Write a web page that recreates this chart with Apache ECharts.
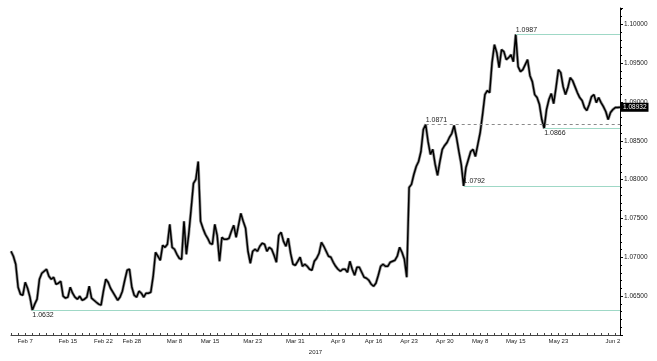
<!DOCTYPE html>
<html>
<head>
<meta charset="utf-8">
<script src="https://cdn.jsdelivr.net/npm/echarts@6/dist/echarts.min.js"></script>
<style>html,body{margin:0;padding:0;background:#fff}#c{width:657px;height:361px}</style>
</head>
<body>
<div id="c"></div>
<script>
const tradingDays = [
 'Feb 3','Feb 6','Feb 7','Feb 8','Feb 9','Feb 10','Feb 13','Feb 14','Feb 15','Feb 16','Feb 17','Feb 20','Feb 21','Feb 22','Feb 23','Feb 24','Feb 27','Feb 28',
 'Mar 1','Mar 2','Mar 3','Mar 6','Mar 7','Mar 8','Mar 9','Mar 10','Mar 13','Mar 14','Mar 15','Mar 16','Mar 17','Mar 20','Mar 21','Mar 22','Mar 23','Mar 24','Mar 27','Mar 28','Mar 29','Mar 30','Mar 31',
 'Apr 3','Apr 4','Apr 5','Apr 6','Apr 7','Apr 10','Apr 11','Apr 12','Apr 13','Apr 14','Apr 17','Apr 18','Apr 19','Apr 20','Apr 21','Apr 24','Apr 25','Apr 26','Apr 27','Apr 28',
 'May 1','May 2','May 3','May 4','May 5','May 8','May 9','May 10','May 11','May 12','May 15','May 16','May 17','May 18','May 19','May 22','May 23','May 24','May 25','May 26','May 29','May 30','May 31',
 'Jun 1','Jun 2'
];
const sessionTimes = ['00:00','08:00','16:00'];

const prices = [
 1.07078,1.07014,1.06911,1.06615,1.06525,1.06512,1.06679,1.06602,1.06487,1.0632,1.06397,1.06461,
 1.06718,1.06795,1.06821,1.06847,1.06757,1.06718,1.06744,1.06654,1.06667,1.06692,1.065,1.06474,
 1.06487,1.06615,1.06538,1.06487,1.06461,1.065,1.06448,1.06461,1.06487,1.06628,1.06474,1.06448,
 1.06422,1.06397,1.06384,1.06564,1.06718,1.06679,1.06602,1.06551,1.065,1.06448,1.06487,1.06564,
 1.06705,1.06834,1.06847,1.06615,1.06512,1.06487,1.06564,1.06538,1.06487,1.06538,1.06538,1.06551,
 1.06757,1.07065,1.07014,1.06962,1.07155,1.07129,1.07168,1.07425,1.07129,1.07104,1.07039,1.06988,
 1.06975,1.07463,1.07039,1.07296,1.07618,1.07952,1.08003,1.08234,1.07463,1.07373,1.07296,1.07245,
 1.07181,1.07168,1.07425,1.07283,1.06949,1.07258,1.07232,1.07232,1.07245,1.07335,1.07412,1.07258,
 1.07412,1.07566,1.07463,1.07373,1.07078,1.06924,1.07078,1.07104,1.07078,1.07142,1.07181,1.07168,
 1.07078,1.07129,1.07104,1.07026,1.06936,1.07283,1.07322,1.07206,1.07142,1.07245,1.07052,1.06911,
 1.06898,1.06949,1.07001,1.06885,1.06911,1.06885,1.06847,1.06834,1.06949,1.06988,1.07052,1.07193,
 1.07142,1.07078,1.07014,1.07001,1.06936,1.06885,1.06847,1.06821,1.06847,1.06847,1.06808,1.06949,
 1.06847,1.06769,1.06872,1.06872,1.06808,1.06744,1.06731,1.06705,1.06654,1.06628,1.06667,1.06769,
 1.06885,1.06911,1.06885,1.06885,1.06936,1.06949,1.06962,1.07014,1.07129,1.07065,1.06975,1.06744,
 1.079,1.07939,1.08067,1.0817,1.08234,1.08363,1.08646,1.0871,1.08491,1.08324,1.08389,1.08196,
 1.08054,1.08234,1.08389,1.0844,1.08478,1.08543,1.08594,1.08697,1.08543,1.08363,1.08196,1.0792,
 1.08157,1.0826,1.08363,1.08389,1.08299,1.08453,1.08607,1.08838,1.09095,1.09147,1.09121,1.09506,
 1.09738,1.09635,1.09442,1.09674,1.09648,1.09545,1.09571,1.09609,1.09519,1.0987,1.09455,1.09391,
 1.09417,1.09481,1.09545,1.09339,1.09262,1.09095,1.09057,1.08967,1.08774,1.0866,1.08903,1.09031,
 1.09108,1.0898,1.09185,1.09417,1.09378,1.09198,1.09095,1.09185,1.09314,1.09275,1.09198,1.09121,
 1.09057,1.09018,1.08928,1.0889,1.08967,1.0907,1.09095,1.08992,1.09057,1.08992,1.08941,1.08877,
 1.08774,1.08864,1.08903,1.08928,1.08928,1.08932
];

const tickLabels = ['Feb 7','Feb 15','Feb 22','Feb 28','Mar 8','Mar 15','Mar 23','Mar 31','Apr 9','Apr 16','Apr 23','Apr 30','May 8','May 15','May 23','Jun 2'];
const tickCategories = ['Feb 7 00:00','Feb 15 00:00','Feb 22 00:00','Feb 28 00:00','Mar 8 00:00','Mar 15 00:00','Mar 23 00:00','Mar 31 00:00','Apr 10 00:00','Apr 17 00:00','Apr 24 00:00','May 1 00:00','May 8 00:00','May 15 00:00','May 23 00:00','Jun 1 16:00'];

const solidLevels = [1.0632, 1.0792, 1.0866, 1.0987];
const solidLabelSide = ['bottom', 'top', 'bottom', 'top'];
const dashedLevels = [1.0871];
const yearLabel = '2017';

const categories = tradingDays.flatMap(d => sessionTimes.map(t => d + ' ' + t));
const tickMap = new Map(tickCategories.map((c, i) => [c, tickLabels[i]]));
const lastIdx = categories.length - 1;
const FONT = 'Liberation Sans, Arial, sans-serif';

function levelLine(level, side, dashed) {
  const start = prices.indexOf(level);
  return [
    { coord: [categories[start], level],
      label: { show: true, formatter: level.toFixed(4),
        position: side === 'top' ? 'insideStartTop' : 'insideStartBottom',
        distance: [0, 1], color: '#222', fontSize: 7, fontFamily: FONT },
      lineStyle: dashed ? { color: '#8a8a8a', type: [3, 3], width: 1 } : { color: '#9fd8c6', width: 1, type: 'solid' } },
    { coord: [categories[lastIdx], level] }
  ];
}

const markData = solidLevels.map((l, i) => levelLine(l, solidLabelSide[i], false))
  .concat(dashedLevels.map(l => levelLine(l, 'top', true)));

const chart = echarts.init(document.getElementById('c'), null, { renderer: 'canvas' });
chart.setOption({
  animation: false,
  backgroundColor: '#fff',
  grid: { left: 11, right: 37, top: 8, bottom: 26 },
  xAxis: {
    type: 'category', data: categories, boundaryGap: false,
    axisLine: { lineStyle: { color: '#444', width: 1 } },
    axisTick: { show: true, inside: true, length: 2, interval: (i) => i % 3 === 0, lineStyle: { color: '#444' } },
    axisLabel: { interval: (i, v) => tickMap.has(v), formatter: (v) => tickMap.get(v) || '',
      fontSize: 6, color: '#222', margin: 3, fontFamily: FONT },
    splitLine: { show: false },
    name: yearLabel, nameLocation: 'middle', nameGap: 12,
    nameTextStyle: { fontSize: 6, color: '#222', fontFamily: FONT }
  },
  yAxis: {
    type: 'value', position: 'right', min: 1.06, max: 1.1021, interval: 0.005,
    axisLine: { show: true, lineStyle: { color: '#000', width: 1 } },
    axisTick: { show: true, length: 3, lineStyle: { color: '#000' } },
    minorTick: { show: true, splitNumber: 5, length: 2, lineStyle: { color: '#000' } },
    splitLine: { show: false },
    axisLabel: { showMinLabel: false, showMaxLabel: false, formatter: (v) => v.toFixed(5),
      fontSize: 6.5, color: '#222', margin: 4, fontFamily: FONT }
  },
  series: [
    { type: 'line', data: prices, showSymbol: false, silent: true,
      lineStyle: { color: '#9a9a9a', width: 3 }, z: 2 },
    { type: 'line', data: prices, showSymbol: false, silent: true,
      lineStyle: { color: '#000', width: 1.5 }, z: 3,
      endLabel: { show: true, formatter: (p) => p.value.toFixed(5), backgroundColor: '#000',
        color: '#fff', fontSize: 6.5, padding: [1, 2], distance: 1, fontFamily: FONT },
      markLine: { silent: true, symbol: 'none', animation: false, data: markData }
    }
  ]
});
</script>
</body>
</html>
